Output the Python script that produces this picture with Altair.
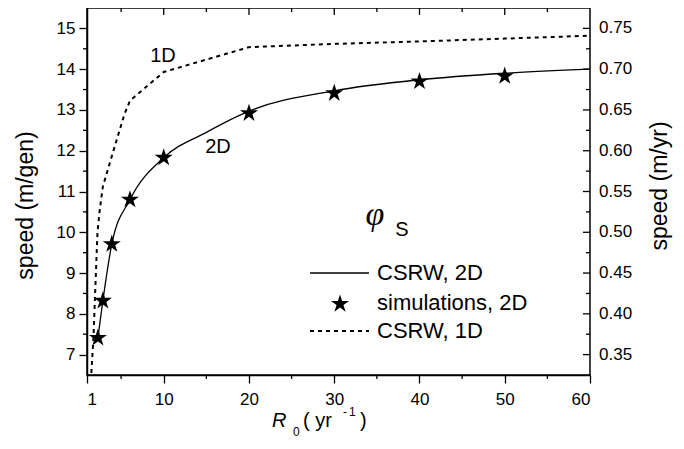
import altair as alt
import pandas as pd

# ---- data ----
R0_sim = [2.28, 2.86, 3.91, 6.04, 10, 20, 30, 40, 50]
speed_sim = [7.41, 8.32, 9.71, 10.80, 11.83, 12.92, 13.41, 13.70, 13.83]

R0_2d = [2.28, 2.86, 3.91, 6.04, 10, 15, 20, 30, 40, 50, 60]
speed_2d = [7.41, 8.32, 9.71, 10.80, 11.83, 12.45, 12.97, 13.47, 13.74, 13.90, 14.00]

R0_1d = [1.51, 1.77, 1.97, 2.23, 2.50, 2.86, 4.10, 5.40, 6.05, 10, 20, 30, 40, 50, 60]
speed_1d = [6.55, 7.46, 8.60, 10.00, 10.56, 11.12, 12.00, 12.90, 13.23, 13.93, 14.54, 14.62, 14.68, 14.75, 14.82]

x_major = [1, 10, 20, 30, 40, 50, 60]
x_minor = [5, 15, 25, 35, 45, 55]
x_top_major = [10, 20, 30, 40, 50]
y_major = [7, 8, 9, 10, 11, 12, 13, 14, 15]
y_minor = [7.5, 8.5, 9.5, 10.5, 11.5, 12.5, 13.5, 14.5]
right_labels = ["0.35", "0.40", "0.45", "0.50", "0.55", "0.60", "0.65", "0.70", "0.75"]

legend_labels = ["CSRW, 2D", "simulations, 2D", "CSRW, 1D"]
curve_labels = ["1D", "2D"]

# ---- layout ----
W, H = 503, 367
FONT = "Liberation Sans"
STAR = ("M0,-1L0.2245,-0.309L0.951,-0.309L0.3633,0.118L0.588,0.809L0,0.382"
        "L-0.588,0.809L-0.3633,0.118L-0.951,-0.309L-0.2245,-0.309Z")
STAR_SIZE = 360
xscale = alt.Scale(domain=[1, 60], zero=False, nice=False)
yscale = alt.Scale(domain=[6.5, 15.5], zero=False, nice=False)
x_axis = alt.Axis(values=x_major, title=None, tickSize=8, labelPadding=8, format="d")
y_axis = alt.Axis(orient="left", values=y_major, title="speed (m/gen)", tickSize=8, labelPadding=4,
                  titleAngle=270, titleX=-62, titleY=197, titleBaseline="middle", titleAlign="center")


def X(field="R0"):
    return alt.X(f"{field}:Q", scale=xscale, axis=x_axis)


def Y(field="v"):
    return alt.Y(f"{field}:Q", scale=yscale, axis=y_axis)


df_sim = pd.DataFrame({"R0": R0_sim, "v": speed_sim})
df_2d = pd.DataFrame({"R0": R0_2d, "v": speed_2d})
df_1d = pd.DataFrame({"R0": R0_1d, "v": speed_1d})

line2d = alt.Chart(df_2d).mark_line(color="black", strokeWidth=1.3, interpolate="monotone").encode(
    x=X(), y=Y())
line1d = alt.Chart(df_1d).mark_line(color="black", strokeWidth=2, strokeDash=[4, 4]).encode(x=X(), y=Y())
stars = alt.Chart(df_sim).mark_point(shape=STAR, filled=True, color="black", size=STAR_SIZE,
                                     opacity=1).encode(x=X(), y=Y())

# right axis (0.05 m/yr per m/gen): ticks inward, labels outside
df_right = pd.DataFrame({"v": y_major, "lab": right_labels})
right_maj = alt.Chart(df_right).mark_rule(color="black", strokeWidth=1.3).encode(
    y=Y(), x=alt.value(W - 7), x2=alt.value(W))
right_lab = alt.Chart(df_right).mark_text(font=FONT, fontSize=17, align="left", baseline="middle",
                                          color="black").encode(y=Y(), x=alt.value(W + 9), text="lab:N")
right_min = alt.Chart(pd.DataFrame({"v": y_minor})).mark_rule(color="black", strokeWidth=1.3).encode(
    y=Y(), x=alt.value(W - 4), x2=alt.value(W))
left_min = alt.Chart(pd.DataFrame({"v": y_minor})).mark_rule(color="black", strokeWidth=1.3).encode(
    y=Y(), x=alt.value(-4), x2=alt.value(0))

bot_min = alt.Chart(pd.DataFrame({"R0": x_minor})).mark_rule(color="black", strokeWidth=1.3).encode(
    x=X(), y=alt.value(H), y2=alt.value(H + 4))
top_maj = alt.Chart(pd.DataFrame({"R0": x_top_major})).mark_rule(color="black", strokeWidth=1.3).encode(
    x=X(), y=alt.value(0), y2=alt.value(7))
top_min = alt.Chart(pd.DataFrame({"R0": x_minor})).mark_rule(color="black", strokeWidth=1.3).encode(
    x=X(), y=alt.value(0), y2=alt.value(4))

one = pd.DataFrame({"a": [0]})


def txt(s, x, y, size, font=FONT, style="normal", align="left", baseline="middle", angle=0):
    return alt.Chart(one).mark_text(text=s, font=font, fontSize=size, fontStyle=style, align=align,
                                    baseline=baseline, color="black", angle=angle).encode(
        x=alt.value(x), y=alt.value(y))


right_title = txt("speed (m/yr)", W + 70, 178, 23, align="center", angle=270)

# curve labels
lab1 = txt(curve_labels[0], 76, 48, 20, align="center")
lab2 = txt(curve_labels[1], 131, 139, 20, align="center")

# phi_S
phi = txt("φ", 288, 207, 34, font="Liberation Serif", style="italic", align="center")
phis = txt("S", 315, 222, 20, align="center")

# legend
leg_line = alt.Chart(one).mark_rule(color="black", strokeWidth=1.3).encode(
    x=alt.value(223), x2=alt.value(282), y=alt.value(265))
leg_star = alt.Chart(one).mark_point(shape=STAR, filled=True, color="black", size=STAR_SIZE,
                                     opacity=1).encode(x=alt.value(253), y=alt.value(296))
leg_dash = alt.Chart(one).mark_rule(color="black", strokeWidth=2, strokeDash=[4, 4]).encode(
    x=alt.value(223), x2=alt.value(282), y=alt.value(323))
leg_t1 = txt(legend_labels[0], 290, 265, 22)
leg_t2 = txt(legend_labels[1], 290, 295, 22)
leg_t3 = txt(legend_labels[2], 290, 323, 22)

# x title R_0 ( yr^-1 )
xt_R = txt("R", 185, 419, 20, style="italic", baseline="alphabetic")
xt_0 = txt("0", 206, 428, 12, baseline="alphabetic")
xt_p = txt("( yr", 216, 419, 20, baseline="alphabetic")
xt_m = txt("-", 256, 408, 12, baseline="alphabetic")
xt_1 = txt("1", 262, 408, 12, baseline="alphabetic")
xt_c = txt(")", 273, 419, 20, baseline="alphabetic")

chart = alt.layer(
    line2d, line1d, stars, right_maj, right_lab, right_min, left_min, bot_min, top_maj, top_min,
    right_title, lab1, lab2, phi, phis,
    leg_line, leg_star, leg_dash, leg_t1, leg_t2, leg_t3,
    xt_R, xt_0, xt_p, xt_m, xt_1, xt_c,
).properties(
    width=W, height=H, autosize="none",
    padding={"left": 79, "top": 0, "right": 84, "bottom": 64},
    background="white",
).configure_axis(
    labelFont=FONT, labelFontSize=17, labelColor="black", grid=False,
    domainColor="black", domainWidth=1.5, tickColor="black", tickWidth=1.3,
    titleFont=FONT, titleFontSize=23, titleFontWeight="normal", titleColor="black",
).configure_view(stroke="black", strokeWidth=1.5)

chart.save("out.html", embed_options={"renderer": "svg", "actions": False})
